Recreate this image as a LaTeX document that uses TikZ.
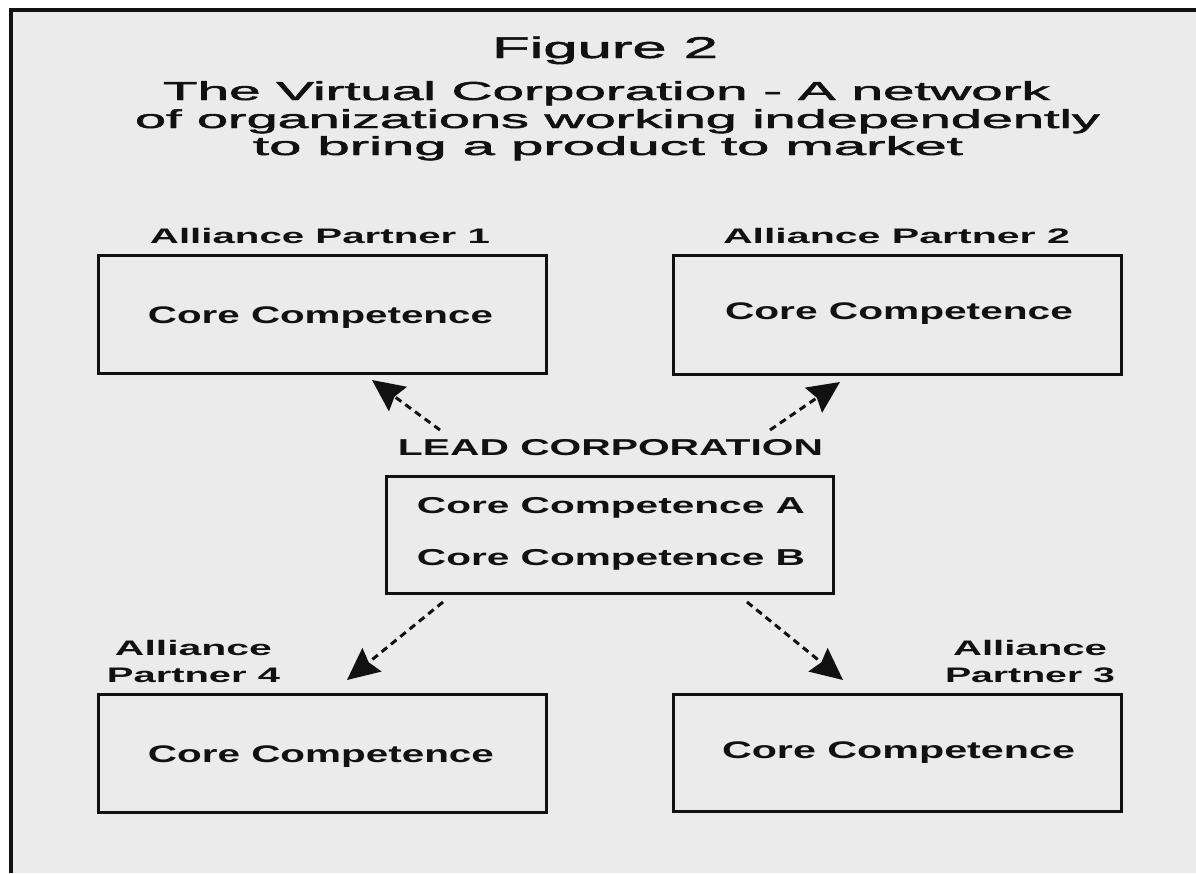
\documentclass[tikz,border=0pt]{standalone}
\usepackage{fontspec}
\setmainfont{Liberation Sans}
\newfontfamily\titlefont[FakeBold=1.5]{Liberation Sans}
\usetikzlibrary{arrows.meta}
\definecolor{panel}{RGB}{235,235,235}
\definecolor{ink}{RGB}{17,17,17}
% set a text and stretch it horizontally to a given width
\newcommand\wtext[2]{\resizebox{#1}{\height}{#2}}

\tikzset{
  lbl/.style={inner sep=0pt, anchor=base, text=ink},
  bigtxt/.style={lbl, font=\titlefont\fontsize{30}{34}\selectfont},
  headtxt/.style={lbl, font=\titlefont\fontsize{26}{30}\selectfont},
  partnertxt/.style={lbl, font=\bfseries\fontsize{21}{26}\selectfont},
  coretxt/.style={lbl, font=\bfseries\fontsize{24}{30}\selectfont},
  leadtxt/.style={lbl, font=\bfseries\fontsize{23}{28}\selectfont},
  cbox/.style={draw=ink, line width=3pt, inner sep=0pt, anchor=north west},
  link/.style={draw=ink, line width=3pt, dash pattern=on 7pt off 5pt,
    -{Stealth[length=32pt,width=30pt,inset=4pt]}}
}

\begin{document}
\begin{tikzpicture}[x=1pt,y=-1pt]

\useasboundingbox (0,0) rectangle (1196,873);
\fill[white] (0,0) rectangle (1196,873);
\fill[panel] (11,10) rectangle (1196,873);
\draw[ink, line width=4pt] (11,873) -- (11,10) -- (1196,10);

% title
\node[bigtxt]  (fig) at (605,58)    {\wtext{226pt}{Figure 2}};
\node[headtxt] (t1)  at (606.5,100) {\wtext{887pt}{The Virtual Corporation - A network}};
\node[headtxt] (t2)  at (617.5,128) {\wtext{965pt}{of organizations working independently}};
\node[headtxt] (t3)  at (608,155)   {\wtext{710pt}{to bring a product to market}};

% partner boxes
\node[cbox, minimum width=448pt, minimum height=118pt] (p1) at (97,254) {};
\node[cbox, minimum width=448pt, minimum height=119pt] (p2) at (672,254) {};
\node[cbox, minimum width=448pt, minimum height=118pt] (p4) at (97,693) {};
\node[cbox, minimum width=448pt, minimum height=117pt] (p3) at (672,693) {};
\node[cbox, minimum width=447pt, minimum height=117pt] (lead) at (385,475) {};

% partner names
\node[partnertxt] (n1)  at (320,243)    {\wtext{340pt}{Alliance Partner 1}};
\node[partnertxt] (n2)  at (896.5,243)  {\wtext{347pt}{Alliance Partner 2}};
\node[partnertxt] (n4a) at (193.5,655)  {\wtext{157pt}{Alliance}};
\node[partnertxt] (n4b) at (193.5,682)  {\wtext{173pt}{Partner 4}};
\node[partnertxt] (n3a) at (1030,655)   {\wtext{154pt}{Alliance}};
\node[partnertxt] (n3b) at (1030,682)   {\wtext{170pt}{Partner 3}};

% box contents
\node[coretxt] (c1) at (320.5,323) {\wtext{345pt}{Core Competence}};
\node[coretxt] (c2) at (899,319)   {\wtext{348pt}{Core Competence}};
\node[coretxt] (c4) at (321,762)   {\wtext{346pt}{Core Competence}};
\node[coretxt] (c3) at (898.5,758) {\wtext{353pt}{Core Competence}};

% lead corporation
\node[leadtxt] (lname) at (610.5,455) {\wtext{425pt}{LEAD CORPORATION}};
\node[leadtxt] (ca) at (611,513) {\wtext{388pt}{Core Competence A}};
\node[leadtxt] (cb) at (611,565) {\wtext{388pt}{Core Competence B}};

% connector ends
\coordinate (ulS) at (440,430);
\coordinate (ulE) at (372,380);
\coordinate (urS) at (770,430);
\coordinate (urE) at (840,382);
\coordinate (dlS) at (443,602);
\coordinate (dlE) at (347,680);
\coordinate (drS) at (747,602);
\coordinate (drE) at (843,680);

\draw[link] (ulS) -- (ulE);
\draw[link] (urS) -- (urE);
\draw[link] (dlS) -- (dlE);
\draw[link] (drS) -- (drE);
\end{tikzpicture}
\end{document}
